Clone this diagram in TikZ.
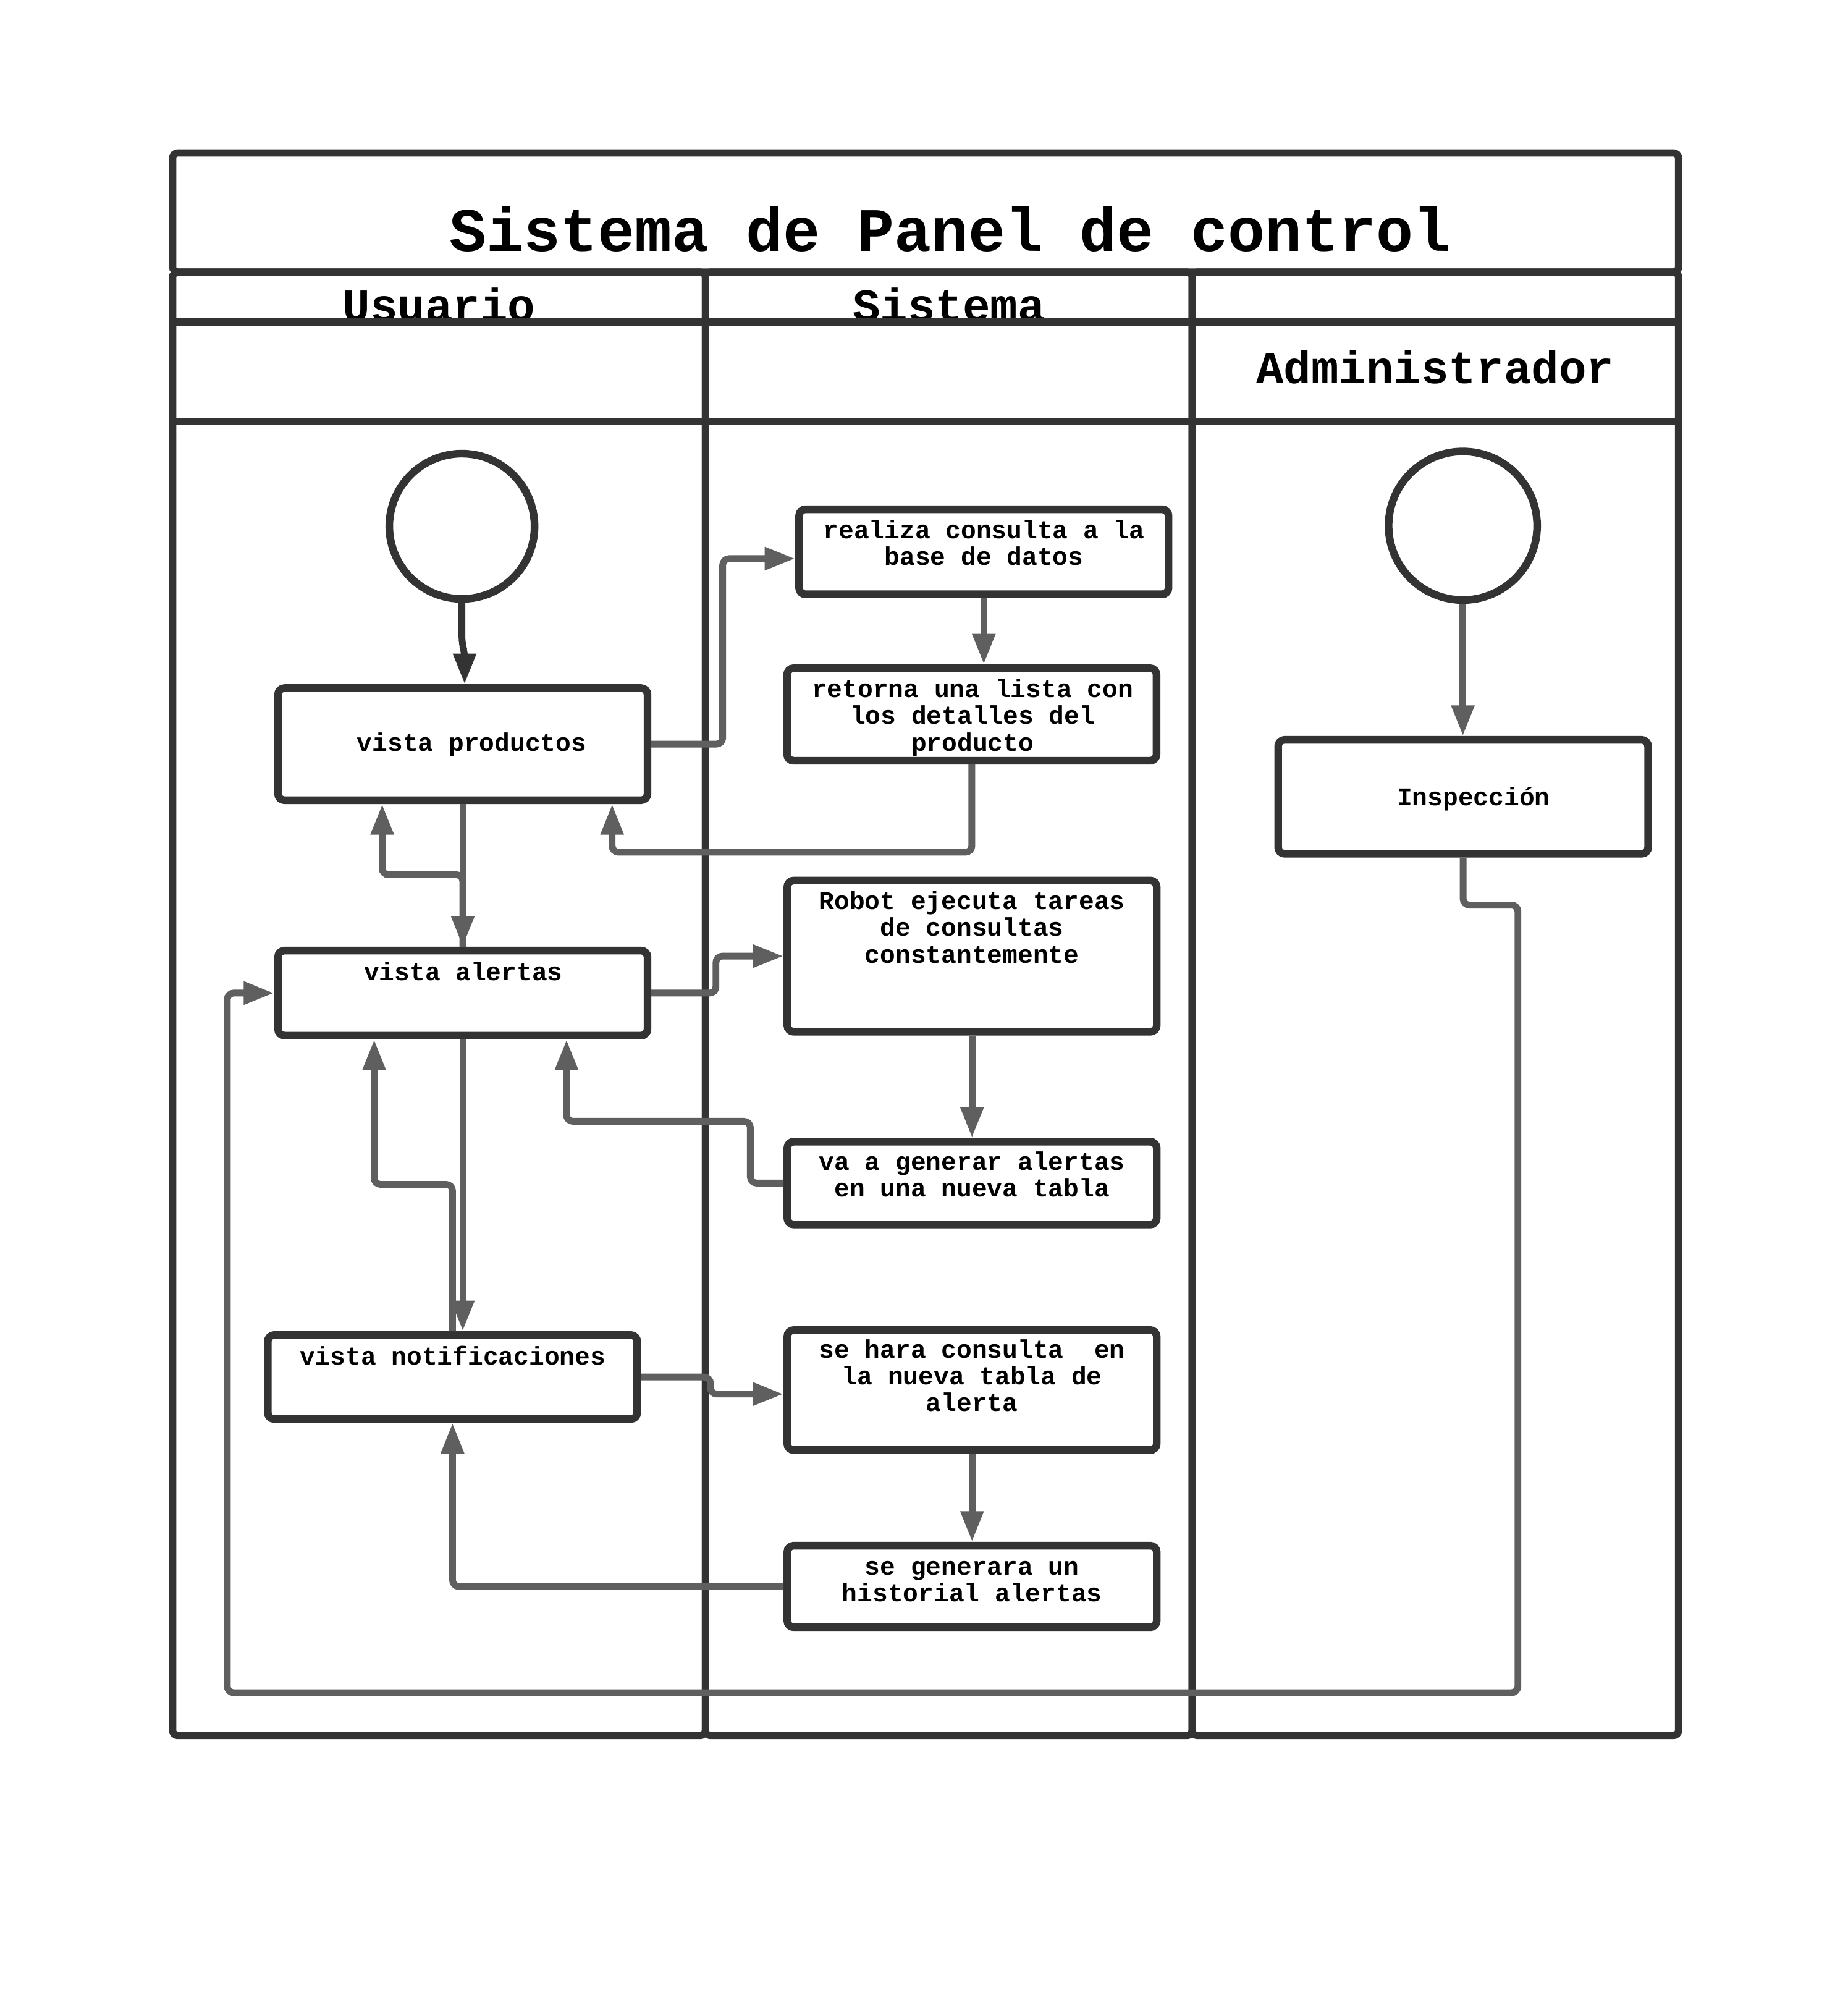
\documentclass[tikz,border=0pt]{standalone}
\usepackage{fontspec}
\setmainfont{Liberation Mono}
\usetikzlibrary{arrows.meta}
\definecolor{dk}{HTML}{333333}
\definecolor{gr}{HTML}{5F5F5F}
\newcommand{\ml}[1]{\begin{tabular}[t]{@{}c@{}}#1\end{tabular}}
\begin{document}
\begin{tikzpicture}[x=1pt,y=-1pt,
  lane/.style={draw=dk,line width=5.7pt,rounded corners=4pt},
  hline/.style={draw=dk,line width=5.7pt},
  abox/.style={draw=dk,line width=6pt,rounded corners=5pt,rectangle,minimum width=290pt,inner sep=0pt,fill=white},
  initnode/.style={draw=dk,line width=6pt,circle,inner sep=0pt,fill=white},
  conn/.style={draw=gr,line width=5.3pt,rounded corners=5pt,-{Triangle[length=24pt,width=17pt]}},
  lbl/.style={font=\fontsize{20}{21}\selectfont\bfseries,anchor=base,inner sep=0pt},
  hdr/.style={font=\fontsize{36}{40}\selectfont\bfseries,anchor=base,inner sep=0pt}]
\fill[white] (0,0) rectangle (1450.6,1568);
\useasboundingbox (0,0) rectangle (1450.6,1568);
% swimlanes
\draw[lane] (135.5,120) rectangle (1317.6,213.5);
\draw[lane] (135.5,213.5) rectangle (553.7,1362);
\draw[lane] (553.7,213.5) rectangle (935.8,1362);
\draw[lane] (935.8,213.5) rectangle (1317.6,1362);
\node[font=\fontsize{48.5}{52}\selectfont\bfseries,anchor=base,inner sep=0pt] (title) at (745.8,197.2) {Sistema de Panel de control};
\begin{scope}
\clip (136,216) rectangle (1318,250.4);
\node[hdr] (husr) at (344.6,252) {Usuario};
\node[hdr] (hsys) at (745,252) {Sistema};
\end{scope}
\draw[hline] (135.5,252.8) -- (1317.6,252.8);
\draw[hline] (135.5,330.5) -- (1317.6,330.5);
\node[hdr] (hadm) at (1126.5,300.7) {Administrador};
% nodes
\node[initnode,minimum size=114pt] (cu) at (362.6,413) {};
\node[initnode,minimum size=116.6pt] (ca) at (1148.3,412.6) {};
\node[abox,minimum height=88pt] (vp) at (363.25,584) {};
\node[abox,minimum height=66.7pt] (va) at (363.25,779.35) {};
\node[abox,minimum height=65.9pt] (vn) at (355.2,1080.65) {};
\node[abox,minimum height=66.7pt] (rc) at (772.25,433.05) {};
\node[abox,minimum height=72.6pt] (rl) at (762.85,560.7) {};
\node[abox,minimum height=118.7pt] (rb) at (763,750.35) {};
\node[abox,minimum height=65pt] (vg) at (763,928.5) {};
\node[abox,minimum height=94.2pt] (sh) at (763,1090.9) {};
\node[abox,minimum height=64pt] (sg) at (763,1245) {};
\node[abox,minimum height=89.4pt,minimum width=290.4pt] (ins) at (1148.5,625.3) {};
% connectors
\draw[conn,draw=dk] (cu.south) -- (362.6,505) -- (364.7,512) -- ([xshift=1.45pt]vp.north);
\draw[conn] (vp.east) -- (567.3,584) |- ([yshift=-5.35pt]rc.west);
\draw[conn] (rc.south) -- (rc.south |- rl.north);
\draw[conn] (rl.south) |- (480.5,668.8) -- ([xshift=117.25pt]vp.south);
\draw[conn] (vp.south) -- (va.north);
\draw[conn] (va.north) |- (300,686.5) -- ([xshift=-63.25pt]vp.south);
\draw[conn] (va.east) -- (562,779.35) |- (rb.west);
\draw[conn] (rb.south) -- (vg.north);
\draw[conn] (vg.west) -- (589,928.5) |- (444.7,880) -- ([xshift=81.45pt]va.south);
\draw[conn] (va.south) -- (va.south |- vn.north);
\draw[conn] (vn.north) |- (293.7,929.5) -- ([xshift=-69.55pt]va.south);
\draw[conn] (vn.east) -- (557.7,1080.65) |- ([yshift=-3.1pt]sh.west);
\draw[conn] (sh.south) -- (sg.north);
\draw[conn] (sg.west) -| (vn.south);
\draw[conn] (ca.south) -- (ca.south |- ins.north);
\draw[conn] (ins.south) |- (1191.5,710.3) |- (178.4,1328.4) |- (va.west);
% texts
\node[lbl] (tvp) at (370.3,589.4) {vista productos};
\node[lbl] (tva) at (363.7,769.4) {vista alertas};
\node[lbl] (tvn) at (355.3,1070.9) {vista notificaciones};
\node[lbl] (trc) at (772.4,422.5) {\ml{realiza consulta a la\\base de datos}};
\node[lbl] (trl) at (763.4,547.3) {\ml{retorna una lista con\\los detalles del\\producto}};
\node[lbl] (trb) at (763,713.7) {\ml{Robot ejecuta tareas\\de consultas\\constantemente}};
\node[lbl] (tvg) at (763,918.2) {\ml{va a generar alertas\\en una nueva tabla}};
\node[lbl] (tsh) at (763,1065.7) {\ml{se hara consulta\ \ en\\la nueva tabla de\\alerta}};
\node[lbl] (tsg) at (763,1235.9) {\ml{se generara un\\historial alertas}};
\node[lbl] (tins) at (1156.7,632.4) {Inspección};
\end{tikzpicture}
\end{document}
